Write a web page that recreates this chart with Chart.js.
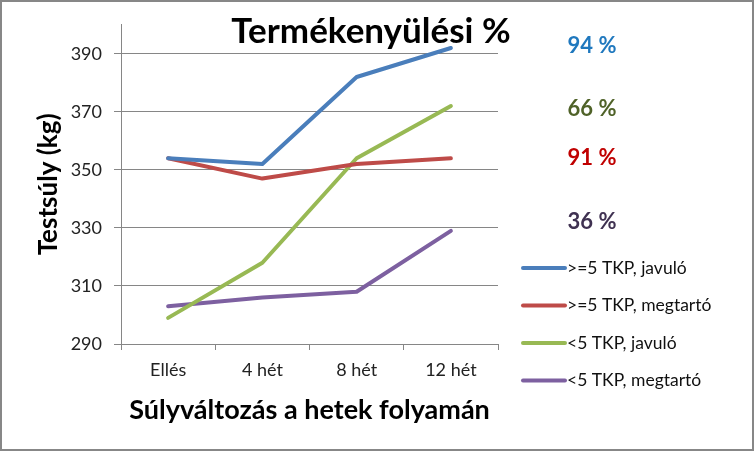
<!DOCTYPE html>
<html>
<head>
<meta charset="utf-8">
<script src="https://cdn.jsdelivr.net/npm/chart.js"></script>
<style>
  body { margin: 0; background: #fff; }
  #wrap { width: 750px; height: 447px; border: 2px solid #878787; background: #fff; }
</style>
</head>
<body>
<div id="wrap"><canvas id="chart" width="750" height="447"></canvas></div>
<script>
const categories = ["Ellés", "4 hét", "8 hét", "12 hét"];
const seriesNames = [">=5 TKP, javuló", ">=5 TKP, megtartó", "<5 TKP, javuló", "<5 TKP, megtartó"];
const javulo5 = [354, 352, 382, 392];
const megtarto5 = [354, 347, 352, 354];
const javuloKevesebb = [299, 318, 354, 372];
const megtartoKevesebb = [303, 306, 308, 329];
const percents = ["94 %", "91 %", "66 %", "36 %"];
const yTicks = [290, 310, 330, 350, 370, 390];

const lineColors = ["#4A7EBB", "#BE4B48", "#98B954", "#7D60A0"];
const percentColors = ["#1F78BE", "#C00000", "#4F6228", "#3F3151"];
const percentShift = [-2, 0, 3, -9]; // kis eltolás a sorozat utolsó pontjához képest

Chart.defaults.font.family = "Lato";
Chart.defaults.color = "#222";

const gridColor = "#868686";

// cím, százalékok és jelmagyarázat rajzolása
const extras = {
  id: "extras",
  afterDraw(chart) {
    const ctx = chart.ctx;
    const y = chart.scales.y;
    ctx.save();
    ctx.textAlign = "center";
    ctx.textBaseline = "alphabetic";
    ctx.fillStyle = "#000";
    ctx.font = "bold 35px Lato";
    ctx.fillText("Termékenyülési %", 369, 41);

    ctx.font = "bold 22px Lato";
    ctx.textBaseline = "middle";
    chart.data.datasets.forEach((ds, i) => {
      const last = ds.data[ds.data.length - 1];
      ctx.fillStyle = percentColors[i];
      ctx.fillText(percents[i], 590, y.getPixelForValue(last) + percentShift[i]);
    });

    ctx.font = "17.5px Lato";
    ctx.textAlign = "left";
    chart.data.datasets.forEach((ds, i) => {
      const ly = 266 + i * 37.5;
      ctx.strokeStyle = ds.borderColor;
      ctx.lineWidth = 4;
      ctx.lineCap = "round";
      ctx.beginPath();
      ctx.moveTo(521, ly);
      ctx.lineTo(563, ly);
      ctx.stroke();
      ctx.fillStyle = "#111";
      ctx.fillText(ds.label, 565, ly);
    });
    ctx.restore();
  }
};

const seriesData = [javulo5, megtarto5, javuloKevesebb, megtartoKevesebb];

new Chart(document.getElementById("chart"), {
  type: "line",
  data: {
    labels: categories,
    datasets: seriesData.map((d, i) => ({
      label: seriesNames[i],
      data: d,
      borderColor: lineColors[i],
      backgroundColor: lineColors[i],
      borderWidth: 4,
      pointRadius: 0,
      borderCapStyle: "round",
      borderJoinStyle: "round",
      tension: 0
    }))
  },
  options: {
    responsive: false,
    animation: false,
    layout: { padding: { top: 22, right: 254, left: 0, bottom: 0 } },
    plugins: {
      legend: { display: false },
      title: { display: false },
      tooltip: { enabled: false }
    },
    scales: {
      x: {
        offset: true,
        grid: { offset: true, drawOnChartArea: false, color: gridColor, tickLength: 6 },
        border: { color: gridColor },
        ticks: { font: { size: 18 }, padding: 9, color: "#222" },
        title: {
          display: true,
          text: "Súlyváltozás a hetek folyamán",
          font: { size: 27, weight: "bold" },
          color: "#000",
          padding: { top: 0, bottom: 23 }
        },
        afterFit(scale) { scale.height = 105; }
      },
      y: {
        min: 290,
        max: 400,
        afterBuildTicks(scale) { scale.ticks = yTicks.map(v => ({ value: v })); },
        grid: { color: gridColor, tickLength: 7 },
        border: { color: gridColor },
        ticks: { font: { size: 18 }, padding: 12, color: "#222" },
        title: {
          display: true,
          text: "Testsúly (kg)",
          font: { size: 26, weight: "bold" },
          color: "#000",
          padding: { top: 31, bottom: 0 }
        },
        afterFit(scale) { scale.width = 119; }
      }
    }
  },
  plugins: [extras]
});
</script>
</body>
</html>
